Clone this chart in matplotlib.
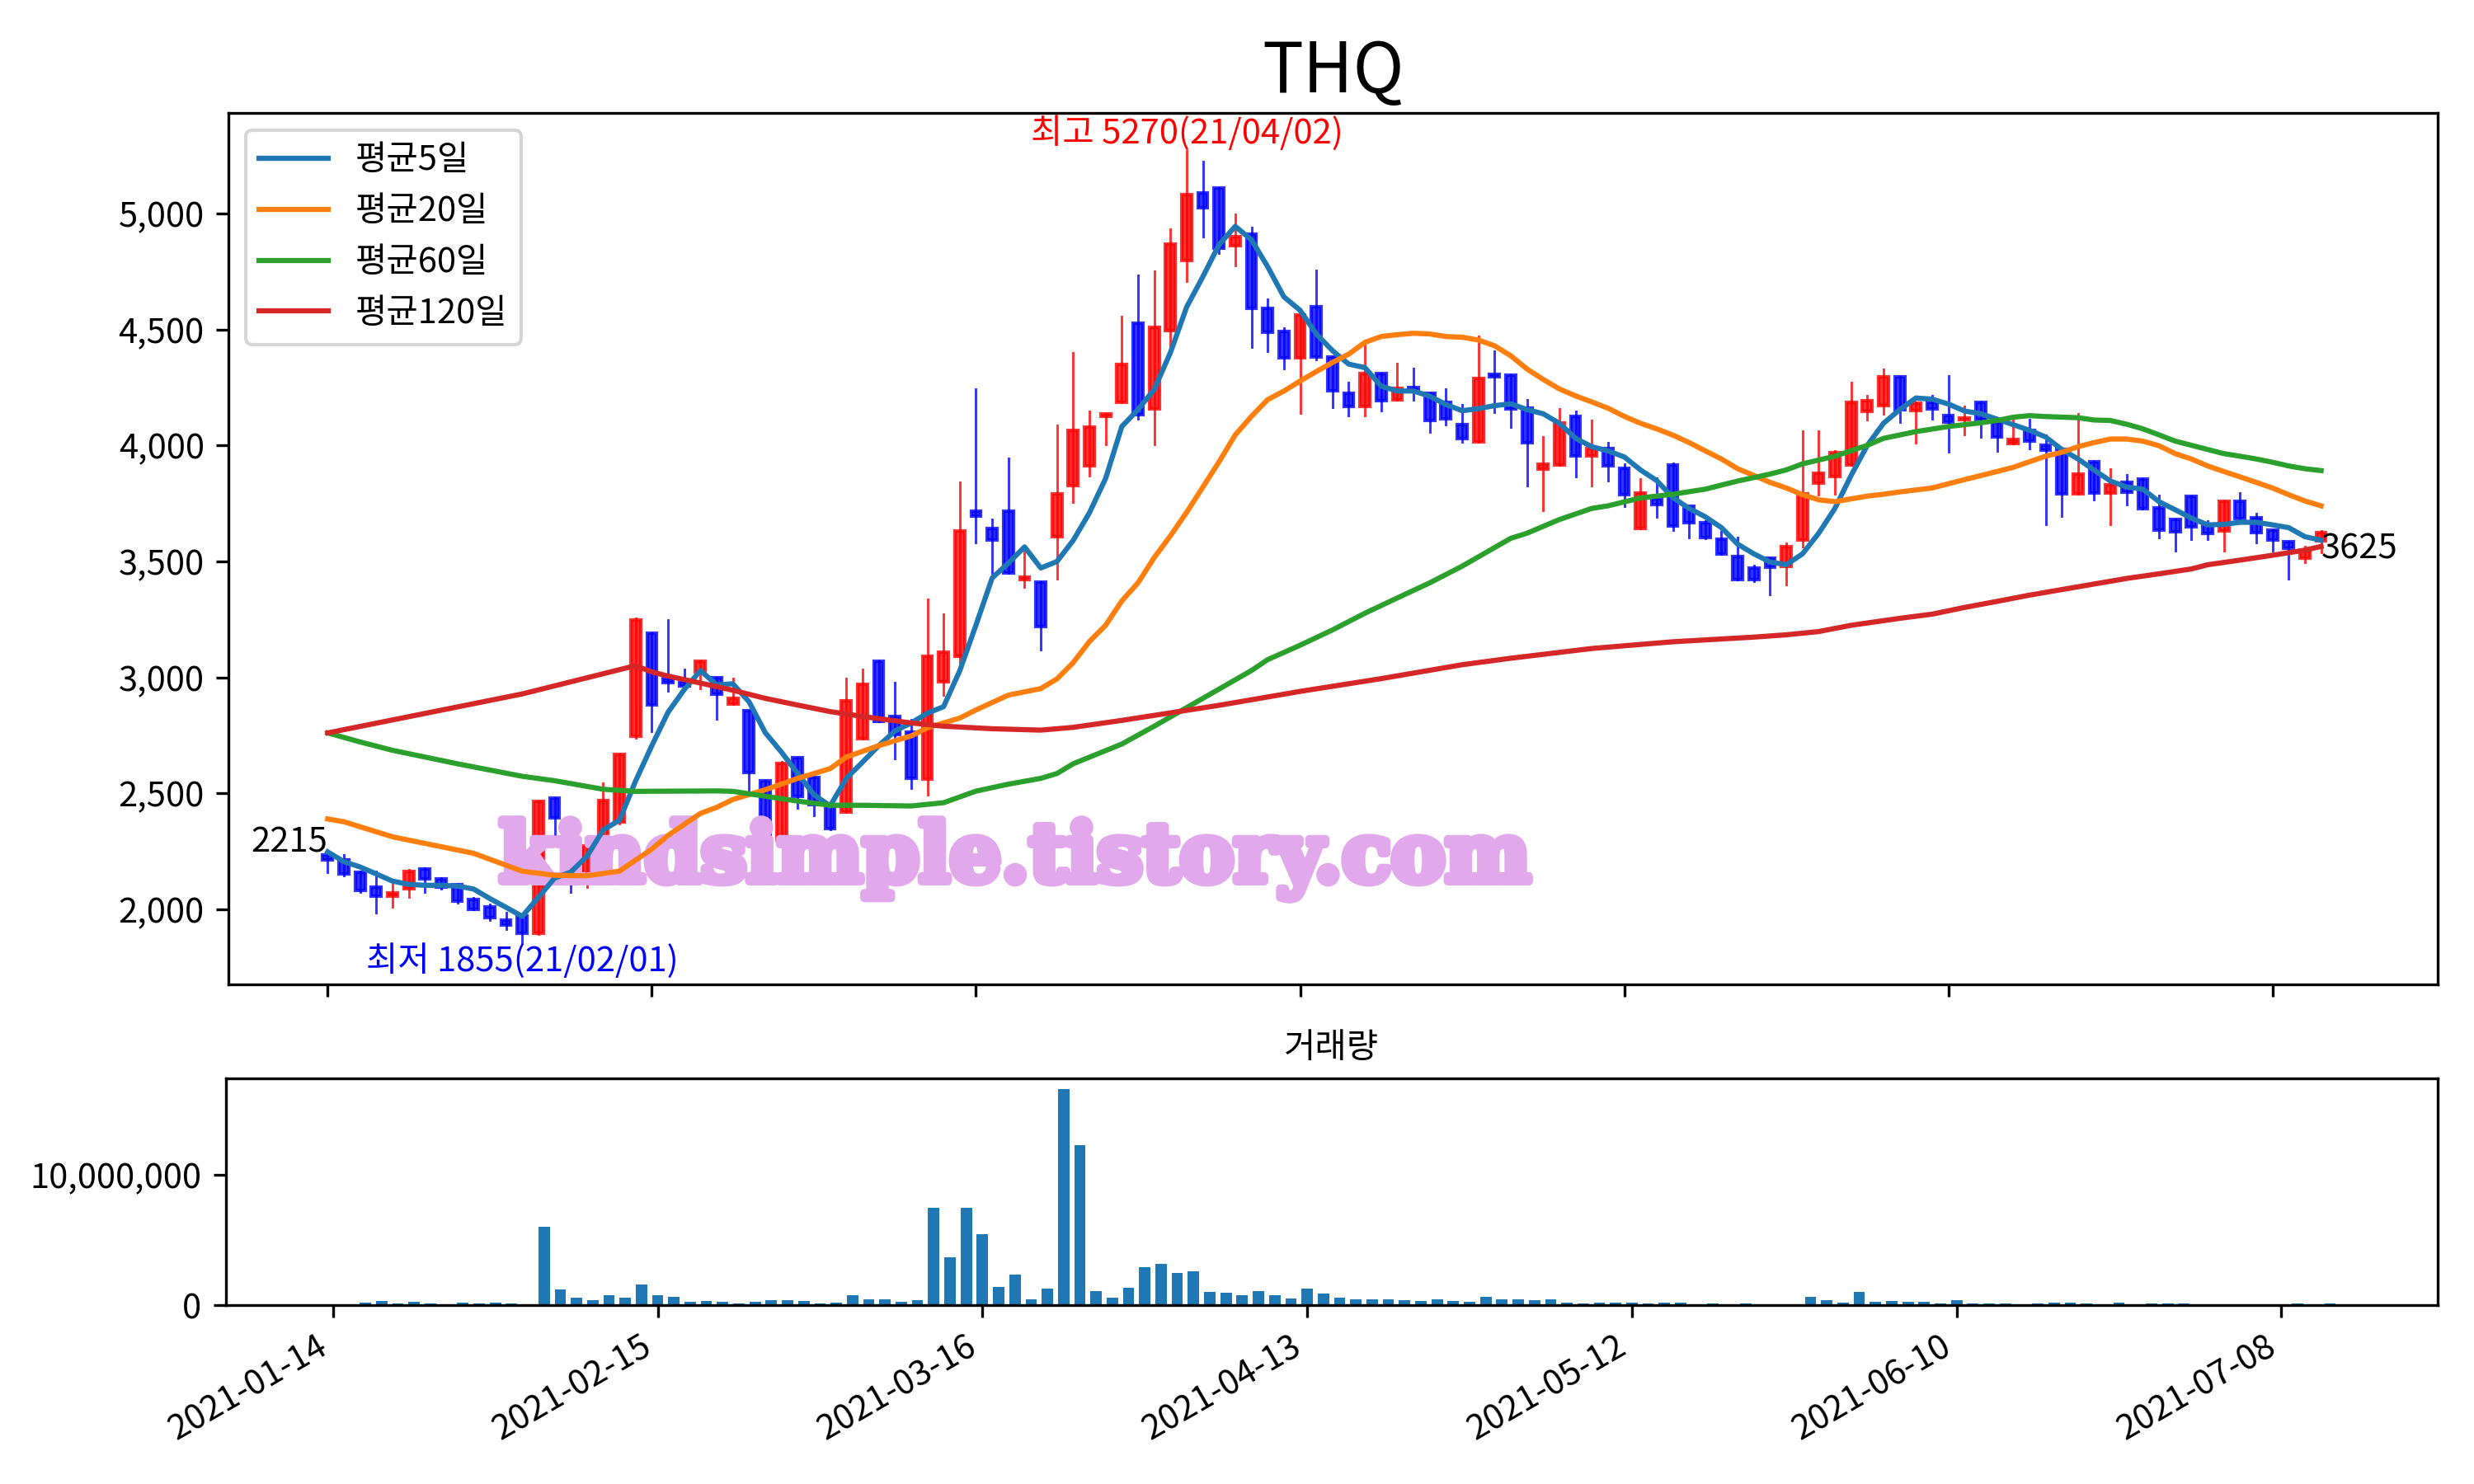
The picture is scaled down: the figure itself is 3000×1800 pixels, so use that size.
import numpy as np
import matplotlib
matplotlib.use("Agg")
import matplotlib.pyplot as plt
import matplotlib.patheffects as pe
from matplotlib.patches import Rectangle
from matplotlib.lines import Line2D
from matplotlib.ticker import FuncFormatter

plt.rcParams['font.family'] = ['Noto Sans CJK KR', 'DejaVu Sans']
plt.rcParams['axes.unicode_minus'] = False

title = 'THQ'
tick_idx = [0, 20, 40, 60, 80, 100, 120]
tick_labels = ['2021-01-14', '2021-02-15', '2021-03-16', '2021-04-13',
               '2021-05-12', '2021-06-10', '2021-07-08']

opens = [2235, 2215, 2159, 2097, 2058, 2088, 2175, 2130, 2106, 2044,
         2011, 1954, 1973, 1898, 2479, 2366, 2117, 2280, 2378, 2745,
         3190, 2994, 2982, 3024, 3000, 2886, 2856, 2555, 2298, 2654,
         2568, 2450, 2418, 2737, 3071, 2832, 2765, 2561, 2983, 3092,
         3717, 3643, 3717, 3422, 3411, 3608, 3826, 3914, 4125, 4187,
         4529, 4158, 4496, 4797, 5088, 5112, 4861, 4912, 4593, 4491,
         4377, 4597, 4383, 4227, 4169, 4310, 4198, 4249, 4227, 4187,
         4089, 4017, 4307, 4303, 4161, 3900, 3916, 4125, 3954, 3989,
         3903, 3643, 3770, 3916, 3740, 3669, 3596, 3521, 3473, 3513,
         3478, 3592, 3839, 3867, 3915, 4147, 4173, 4296, 4149, 4185,
         4128, 4110, 4185, 4102, 4007, 4066, 4001, 3985, 3790, 3932,
         3794, 3843, 3857, 3731, 3681, 3780, 3658, 3631, 3758, 3687,
         3636, 3584, 3515, 3589]
highs = [2240, 2236, 2165, 2165, 2106, 2170, 2177, 2135, 2112, 2049,
         2023, 1987, 1975, 2467, 2480, 2370, 2290, 2545, 2670, 3255,
         3192, 3249, 3036, 3071, 3000, 2994, 2856, 2555, 2635, 2654,
         2570, 2452, 2994, 3036, 3071, 2976, 2818, 3335, 3271, 3840,
         4243, 3682, 3945, 3549, 3411, 4086, 4400, 4146, 4135, 4557,
         4735, 4750, 4934, 5270, 5224, 5112, 4996, 4941, 4629, 4506,
         4564, 4754, 4383, 4271, 4433, 4310, 4354, 4332, 4227, 4242,
         4174, 4470, 4406, 4304, 4197, 4037, 4157, 4146, 4108, 4011,
         3921, 3855, 3859, 3924, 3740, 3675, 3628, 3604, 3482, 3513,
         3577, 4063, 4063, 3975, 4270, 4214, 4327, 4296, 4185, 4214,
         4300, 4169, 4185, 4102, 4114, 4110, 4043, 3990, 4137, 3932,
         3897, 3873, 3857, 3784, 3681, 3780, 3675, 3758, 3794, 3705,
         3636, 3584, 3563, 3631]
lows = [2160, 2147, 2076, 1987, 2011, 2053, 2076, 2088, 2029, 1999,
        1954, 1914, 1855, 1895, 2307, 2076, 2095, 2260, 2370, 2740,
        2769, 2941, 2959, 2953, 2822, 2885, 2516, 2298, 2295, 2439,
        2404, 2345, 2418, 2735, 2810, 2650, 2523, 2495, 2924, 3043,
        3581, 3451, 3451, 3390, 3120, 3425, 3755, 3869, 4006, 4187,
        4116, 4005, 4423, 4709, 4899, 4829, 4776, 4423, 4406, 4332,
        4140, 4370, 4165, 4129, 4129, 4150, 4198, 4198, 4060, 4090,
        4014, 4017, 4145, 4078, 3829, 3719, 3916, 3867, 3829, 3847,
        3740, 3643, 3693, 3634, 3604, 3600, 3533, 3423, 3415, 3359,
        3399, 3563, 3788, 3790, 3915, 4110, 4137, 4100, 4013, 4114,
        3974, 4048, 4037, 3977, 4007, 3989, 3660, 3695, 3790, 3767,
        3660, 3746, 3729, 3604, 3547, 3598, 3598, 3547, 3684, 3581,
        3545, 3426, 3498, 3539]
closes = [2215, 2153, 2082, 2058, 2070, 2165, 2130, 2096, 2035, 2002,
          1964, 1934, 1898, 2467, 2396, 2112, 2273, 2470, 2668, 3249,
          2882, 2976, 2965, 3071, 2929, 2910, 2589, 2298, 2631, 2488,
          2453, 2347, 2898, 2969, 2811, 2755, 2565, 3092, 3109, 3633,
          3694, 3594, 3451, 3432, 3219, 3791, 4065, 4079, 4135, 4351,
          4133, 4510, 4868, 5083, 5025, 4851, 4902, 4593, 4488, 4380,
          4564, 4383, 4235, 4169, 4310, 4195, 4246, 4237, 4108, 4116,
          4029, 4288, 4297, 4159, 4013, 3918, 4099, 3954, 3989, 3912,
          3788, 3797, 3744, 3654, 3667, 3602, 3533, 3423, 3423, 3474,
          3563, 3790, 3880, 3971, 4185, 4193, 4295, 4155, 4181, 4157,
          4102, 4117, 4110, 4037, 4027, 4021, 3980, 3790, 3877, 3794,
          3832, 3800, 3729, 3636, 3630, 3649, 3620, 3758, 3684, 3624,
          3592, 3557, 3545, 3625]
volumes_m = [0.05, 0.05, 0.21, 0.34, 0.15, 0.27, 0.15, 0.05, 0.21, 0.15,
             0.21, 0.15, 0.05, 6.05, 1.23, 0.59, 0.40, 0.78, 0.59, 1.61,
             0.78, 0.66, 0.27, 0.34, 0.27, 0.15, 0.27, 0.40, 0.40, 0.34,
             0.15, 0.21, 0.78, 0.47, 0.47, 0.27, 0.40, 7.51, 3.70, 7.51,
             5.48, 1.42, 2.37, 0.47, 1.29, 16.6, 12.3, 1.10, 0.59, 1.35,
             2.94, 3.19, 2.50, 2.62, 1.04, 0.97, 0.78, 1.10, 0.78, 0.53,
             1.29, 0.91, 0.59, 0.47, 0.47, 0.47, 0.40, 0.34, 0.47, 0.34,
             0.27, 0.66, 0.47, 0.47, 0.40, 0.47, 0.21, 0.15, 0.21, 0.21,
             0.21, 0.15, 0.21, 0.21, 0.05, 0.15, 0.05, 0.15, 0.03, 0.03,
             0.03, 0.66, 0.40, 0.21, 1.04, 0.27, 0.34, 0.27, 0.27, 0.15,
             0.40, 0.15, 0.15, 0.15, 0.05, 0.15, 0.21, 0.21, 0.15, 0.05,
             0.21, 0.05, 0.15, 0.15, 0.15, 0.05, 0.05, 0.05, 0.05, 0.05,
             0.05, 0.15, 0.05, 0.15]

ma5 = [2248, 2206, 2183, 2153, 2122, 2108, 2104, 2104, 2101, 2088,
       2047, 2009, 1970, 2052, 2135, 2161, 2229, 2343, 2384, 2554,
       2706, 2850, 2948, 3030, 2968, 2973, 2895, 2762, 2678, 2586,
       2495, 2446, 2565, 2635, 2706, 2769, 2804, 2846, 2874, 3029,
       3226, 3429, 3493, 3563, 3472, 3500, 3591, 3710, 3858, 4082,
       4155, 4242, 4401, 4597, 4728, 4866, 4945, 4887, 4771, 4641,
       4583, 4481, 4409, 4351, 4336, 4256, 4235, 4235, 4213, 4177,
       4150, 4159, 4172, 4180, 4155, 4137, 4096, 4031, 3995, 3977,
       3951, 3895, 3849, 3776, 3729, 3693, 3646, 3575, 3533, 3498,
       3486, 3533, 3622, 3729, 3871, 4001, 4096, 4155, 4205, 4200,
       4179, 4149, 4137, 4114, 4090, 4066, 4037, 3983, 3942, 3894,
       3847, 3821, 3812, 3758, 3723, 3687, 3658, 3660, 3669, 3669,
       3658, 3646, 3607, 3592]

ma20_day = [0, 1, 4, 9, 12, 14, 16, 18, 20, 21, 23, 24, 25, 27, 29, 31, 32, 34,
            36, 37, 39, 40, 42, 44, 45, 46, 47, 48, 49, 50, 51, 52, 53, 54, 55,
            56, 57, 58, 59, 60, 61, 62, 63, 64, 65, 66, 67, 68, 69, 70, 71, 72,
            73, 74, 75, 76, 77, 78, 79, 80, 81, 82, 83, 84, 85, 86, 87, 88, 89,
            90, 91, 92, 93, 94, 95, 96, 97, 99, 101, 103, 104, 106, 107, 108,
            109, 110, 111, 112, 113, 114, 115, 116, 117, 118, 119, 120, 121,
            122, 123]
ma20 = [2390, 2378, 2313, 2242, 2165, 2147, 2145, 2165, 2260, 2319, 2414, 2440,
        2474, 2516, 2565, 2607, 2657, 2706, 2748, 2783, 2825, 2860, 2924, 2952,
        2994, 3064, 3155, 3225, 3330, 3408, 3517, 3611, 3712, 3821, 3930, 4046,
        4126, 4198, 4235, 4278, 4319, 4358, 4394, 4445, 4470, 4478, 4484, 4481,
        4470, 4467, 4455, 4430, 4387, 4330, 4285, 4244, 4214, 4188, 4161, 4126,
        4096, 4072, 4045, 4013, 3977, 3942, 3900, 3871, 3841, 3817, 3788, 3766,
        3758, 3770, 3782, 3790, 3800, 3817, 3853, 3888, 3906, 3954, 3971, 3995,
        4013, 4028, 4028, 4019, 3999, 3965, 3942, 3912, 3888, 3865, 3841, 3817,
        3788, 3761, 3740]

ma60_day = [0, 2, 4, 8, 12, 14, 17, 19, 24, 25, 27, 29, 31, 33, 36, 38, 40, 42,
            44, 45, 46, 49, 51, 53, 55, 57, 58, 60, 62, 64, 66, 68, 70, 72, 73,
            74, 76, 78, 79, 81, 83, 85, 87, 89, 90, 91, 93, 95, 96, 98, 100, 102,
            103, 104, 105, 106, 108, 109, 110, 111, 112, 113, 114, 115, 116, 117,
            118, 119, 120, 121, 122, 123]
ma60 = [2761, 2722, 2686, 2628, 2574, 2555, 2518, 2509, 2511, 2509, 2488, 2467,
        2449, 2449, 2446, 2460, 2510, 2540, 2565, 2586, 2628, 2713, 2790, 2870,
        2950, 3030, 3077, 3139, 3205, 3277, 3343, 3408, 3480, 3560, 3600, 3622,
        3681, 3729, 3740, 3774, 3790, 3812, 3847, 3877, 3895, 3921, 3954, 4001,
        4031, 4060, 4082, 4098, 4108, 4122, 4129, 4125, 4120, 4110, 4108, 4092,
        4072, 4046, 4019, 4001, 3983, 3965, 3954, 3942, 3928, 3912, 3900, 3892]

ma120_day = [0, 12, 19, 20, 21, 23, 25, 27, 29, 31, 33, 36, 38, 41, 44, 46, 49,
             55, 60, 65, 70, 73, 78, 83, 88, 90, 92, 94, 97, 99, 101, 103, 105,
             107, 109, 111, 113, 115, 116, 118, 120, 122, 123]
ma120 = [2761, 2929, 3051, 3024, 3006, 2976, 2945, 2910, 2881, 2853, 2832, 2804,
         2790, 2779, 2773, 2785, 2815, 2880, 2940, 2995, 3055, 3083, 3125, 3154,
         3174, 3184, 3198, 3225, 3255, 3273, 3302, 3328, 3355, 3379, 3403, 3427,
         3447, 3468, 3486, 3506, 3527, 3549, 3565]

hi_text = '최고 5270(21/04/02)'
lo_text = '최저 1855(21/02/01)'
watermark = 'kindsimple.tistory.com'

fig = plt.figure(figsize=(10, 6), dpi=300)
ax = fig.add_axes([0.0923, 0.3367, 0.8930, 0.5872])
axv = fig.add_axes([0.0912, 0.1204, 0.8941, 0.1528])

days = np.arange(len(closes))
width = 0.6
for i in days:
    o, h, l, c = opens[i], highs[i], lows[i], closes[i]
    col = 'r' if c >= o else 'b'
    ax.add_line(Line2D([i, i], [l, h], color=col, linewidth=0.7, alpha=0.8, zorder=2))
    ax.add_patch(Rectangle((i - width / 2, min(o, c)), width, abs(c - o),
                           facecolor=col, edgecolor=col, linewidth=1.0,
                           alpha=0.8, zorder=2))

wm_color = '#e2a8ec'
ax.text(0.356, 0.143, watermark, transform=ax.transAxes, ha='center', va='center',
        fontsize=23.5, fontweight='bold', family='DejaVu Serif', color=wm_color,
        zorder=2.5,
        path_effects=[pe.withStroke(linewidth=2.5, foreground=wm_color)])

ax.plot(days, ma5, color='tab:blue', lw=1.5, label='평균5일', zorder=3)
ax.plot(ma20_day, ma20, color='tab:orange', lw=1.5, label='평균20일', zorder=3)
ax.plot(ma60_day, ma60, color='tab:green', lw=1.5, label='평균60일', zorder=3)
ax.plot(ma120_day, ma120, color='tab:red', lw=1.5, label='평균120일', zorder=3)

imax = int(np.argmax(highs))
imin = int(np.argmin(lows))
ax.text(imax, highs[imax], hi_text, color='red', ha='center', va='bottom')
ax.text(imin, lows[imin], lo_text, color='blue', ha='center', va='top')
ax.text(0, closes[0], f'{closes[0]}', ha='right', va='bottom')
ax.text(days[-1], closes[-1], f'{closes[-1]}', ha='left', va='top')

ax.set_xlim(-6.13, 130.19)
ax.set_ylim(1677, 5434)
ax.set_xticks(tick_idx)
ax.set_xticklabels([])
ax.yaxis.set_major_formatter(FuncFormatter(lambda v, p: f'{int(v):,}'))
ax.legend(loc='upper left')
ax.set_title(title, fontsize=20)

vols = [v * 1e6 for v in volumes_m]
axv.bar(days, vols, width=0.7, color='tab:blue')
axv.set_xlim(-6.61, 129.62)
axv.set_ylim(0, max(vols) * 1.05)
axv.set_yticks([0, 10000000])
axv.yaxis.set_major_formatter(FuncFormatter(lambda v, p: f'{int(v):,}'))
axv.set_xticks(tick_idx)
axv.set_xticklabels(tick_labels, rotation=30, ha='right')
axv.set_title('거래량', fontsize=10)

fig.savefig('out.png', dpi=300)
